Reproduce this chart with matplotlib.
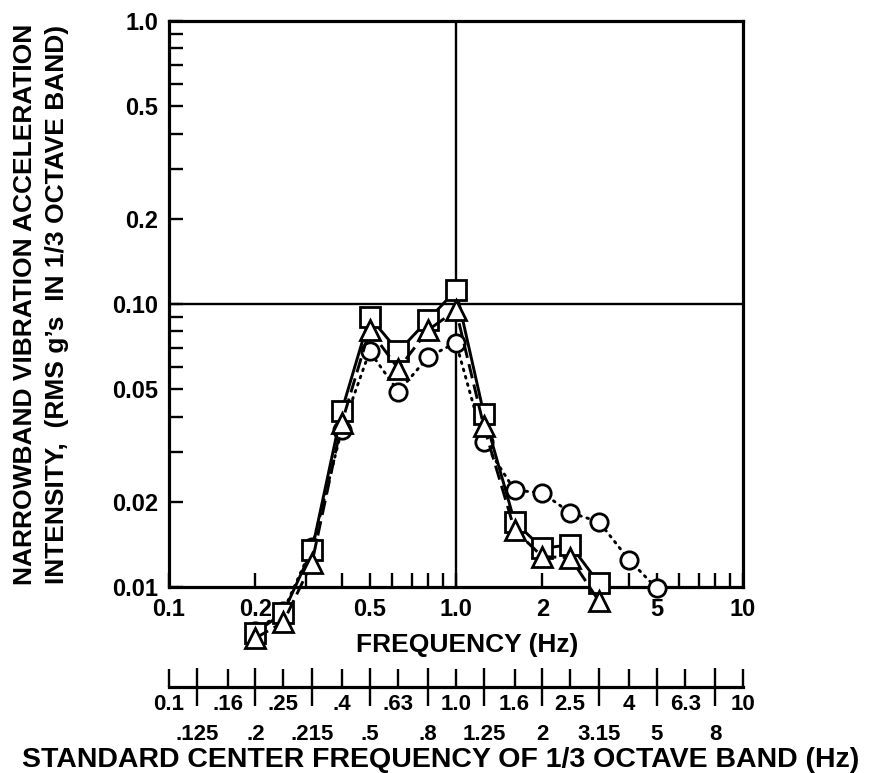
import numpy as np
import matplotlib
matplotlib.use("Agg")
import matplotlib.pyplot as plt
from matplotlib.ticker import FixedLocator, FixedFormatter, NullFormatter

plt.rcParams["font.family"] = ["Liberation Sans", "DejaVu Sans"]
plt.rcParams["font.weight"] = "bold"

# --- data: 1/3 octave band levels (RMS g's) ---
freq_sq = [0.2, 0.25, 0.315, 0.4, 0.5, 0.63, 0.8, 1.0, 1.25, 1.6, 2.0, 2.5, 3.15]
accel_sq = [0.0069, 0.0081, 0.0135, 0.042, 0.090, 0.068, 0.088, 0.112, 0.041, 0.017, 0.0137, 0.0141, 0.0103]

freq_tri = [0.2, 0.25, 0.315, 0.4, 0.5, 0.63, 0.8, 1.0, 1.25, 1.6, 2.0, 2.5, 3.15]
accel_tri = [0.0066, 0.0075, 0.0122, 0.038, 0.081, 0.059, 0.081, 0.095, 0.037, 0.0159, 0.0128, 0.0127, 0.0089]

freq_circ = [0.2, 0.25, 0.315, 0.4, 0.5, 0.63, 0.8, 1.0, 1.25, 1.6, 2.0, 2.5, 3.15, 4.0, 5.0]
accel_circ = [0.0070, 0.0082, 0.0138, 0.036, 0.068, 0.049, 0.065, 0.073, 0.0325, 0.022, 0.0215, 0.0183, 0.017, 0.0125, 0.0099]

x_ticks = [0.1, 0.2, 0.5, 1.0, 2, 5, 10]
x_ticklabels = ["0.1", "0.2", "0.5", "1.0", "2", "5", "10"]
y_ticks = [0.01, 0.02, 0.05, 0.10, 0.2, 0.5, 1.0]
y_ticklabels = ["0.01", "0.02", "0.05", "0.10", "0.2", "0.5", "1.0"]

# standard 1/3 octave centre frequencies, split into the two label rows
band_upper = [0.1, 0.16, 0.25, 0.4, 0.63, 1.0, 1.6, 2.5, 4, 6.3, 10]
band_upper_labels = ["0.1", ".16", ".25", ".4", ".63", "1.0", "1.6", "2.5", "4", "6.3", "10"]
band_lower = [0.125, 0.2, 0.315, 0.5, 0.8, 1.25, 2, 3.15, 5, 8]
band_lower_labels = [".125", ".2", ".215", ".5", ".8", "1.25", "2", "3.15", "5", "8"]

W, H = 876, 773
fig = plt.figure(figsize=(W / 100, H / 100), dpi=100)

def box(x0, y0, x1, y1):
    return [x0 / W, 1 - y1 / H, (x1 - x0) / W, (y1 - y0) / H]

ax = fig.add_axes(box(169, 21, 743, 587))
ax.set_xscale("log")
ax.set_yscale("log")
ax.set_xlim(0.1, 10)
ax.set_ylim(0.01, 1.0)

ax.axvline(1.0, color="black", lw=1.7, zorder=1)
ax.axhline(0.10, color="black", lw=1.7, zorder=1)

line_kw = dict(color="black", lw=2.1, mfc="white", mec="black", mew=2.0, clip_on=False)
ax.plot(freq_circ, accel_circ, linestyle=(0, (0.6, 2.0)), dash_capstyle="round",
        marker="o", ms=12.5, zorder=3, **line_kw)
ax.plot(freq_sq, accel_sq, linestyle="-", marker="s", ms=14, zorder=4, **line_kw)
ax.plot(freq_tri, accel_tri, linestyle=(0, (5, 2.2)), marker="^", ms=14, zorder=5, **line_kw)

for s in ax.spines.values():
    s.set_linewidth(2.3)

ax.xaxis.set_major_locator(FixedLocator(x_ticks))
ax.xaxis.set_major_formatter(FixedFormatter(x_ticklabels))
ax.yaxis.set_major_locator(FixedLocator(y_ticks))
ax.yaxis.set_major_formatter(FixedFormatter(y_ticklabels))
ax.xaxis.set_minor_formatter(NullFormatter())
ax.yaxis.set_minor_formatter(NullFormatter())
ax.tick_params(which="both", direction="in", length=10, width=1.7, top=False, right=False)
ax.tick_params(axis="both", which="major", labelsize=17, pad=8)

fig.text(467 / W, 1 - 645 / H, "FREQUENCY (Hz)", ha="center", va="center",
         fontsize=19, fontweight="bold")

fig.text(25 / W, 1 - 304 / H, "NARROWBAND VIBRATION ACCELERATION", rotation=90,
         ha="center", va="center", fontsize=19, fontweight="bold")
fig.text(57 / W, 1 - 304 / H, "INTENSITY,  (RMS g\u2019s  IN 1/3 OCTAVE BAND)", rotation=90,
         ha="center", va="center", fontsize=19, fontweight="bold")

# 1/3 octave band scale under the frequency axis
ax2 = fig.add_axes(box(169, 686, 743, 687))
ax2.set_xscale("log")
ax2.set_xlim(0.1, 10)
ax2.patch.set_visible(False)
for side in ("top", "left", "right"):
    ax2.spines[side].set_visible(False)
ax2.spines["bottom"].set_linewidth(2.3)
ax2.set_yticks([])
ax2.xaxis.set_major_locator(FixedLocator(band_lower))
ax2.xaxis.set_major_formatter(FixedFormatter(band_lower_labels))
ax2.xaxis.set_minor_locator(FixedLocator(band_upper))
ax2.xaxis.set_minor_formatter(FixedFormatter(band_upper_labels))
ax2.tick_params(axis="x", which="major", direction="inout", length=27, width=1.7,
                labelsize=16, pad=13)
ax2.tick_params(axis="x", which="minor", direction="in", length=13, width=1.7,
                labelsize=16, pad=5)

fig.text(441 / W, 1 - 760 / H, "STANDARD CENTER FREQUENCY OF 1/3 OCTAVE BAND (Hz)",
         ha="center", va="center", fontsize=20.5, fontweight="bold")

fig.savefig("out.png", dpi=100)
